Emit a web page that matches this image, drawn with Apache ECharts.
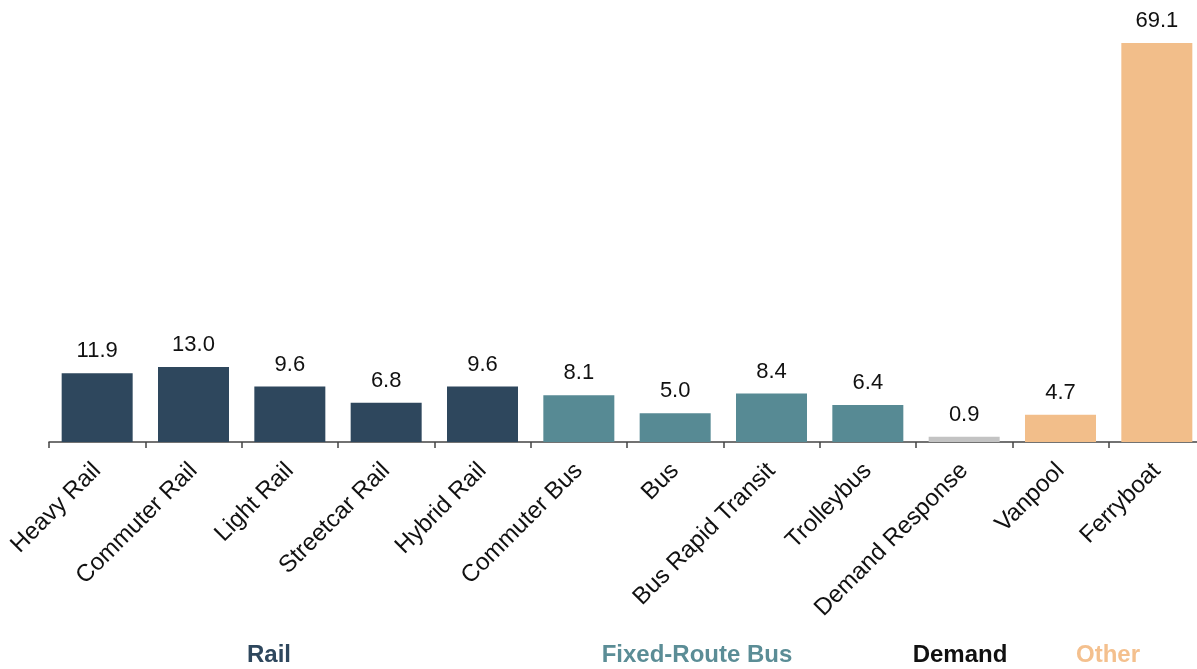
<!DOCTYPE html>
<html><head><meta charset="utf-8">
<script src="https://cdn.jsdelivr.net/npm/echarts@6/dist/echarts.min.js"></script>
<style>html,body{margin:0;padding:0;background:#fff}#c{width:1197px;height:669px}</style>
</head><body><div id="c"></div>
<script>
const categories = ['Heavy Rail','Commuter Rail','Light Rail','Streetcar Rail','Hybrid Rail','Commuter Bus','Bus','Bus Rapid Transit','Trolleybus','Demand Response','Vanpool','Ferryboat'];
const values = [11.9, 13.0, 9.6, 6.8, 9.6, 8.1, 5.0, 8.4, 6.4, 0.9, 4.7, 69.1];
const groups = ['Rail','Rail','Rail','Rail','Rail','Bus','Bus','Bus','Bus','Demand','Other','Other'];
const groupLabels = ['Rail','Fixed-Route Bus','Demand','Other'];
const barColors = {Rail:'#2E475D', Bus:'#578A94', Demand:'#C3C3C3', Other:'#F2BE8A'};
const labelColors = ['#2E475D','#5B8D96','#111111','#F4C08E'];
const labelX = [269, 697, 960, 1108];

const FONT = 'Liberation Sans, Arial, sans-serif';
const chart = echarts.init(document.getElementById('c'));
chart.setOption({
  animation:false,
  grid:{left:49, width:1156, top:43, bottom:227, containLabel:false, outerBoundsMode:'none'},
  xAxis:{type:'category', data:categories,
    axisLine:{lineStyle:{color:'#444', width:1.5}},
    axisTick:{show:true, length:6, lineStyle:{color:'#444', width:1.5}},
    axisLabel:{rotate:45, margin:25, fontSize:24, color:'#111', fontFamily:FONT, interval:0}
  },
  yAxis:{type:'value', min:0, max:69.1, show:false, splitLine:{show:false}},
  series:[{type:'bar', barWidth:71,
    data: values.map((v,i)=>({value:v, itemStyle:{color:barColors[groups[i]]}})),
    label:{show:true, position:'top', distance:11, fontSize:22, color:'#111', fontFamily:FONT, formatter:p=>p.value.toFixed(1)}
  }],
  graphic: groupLabels.map((t,i)=>({type:'text', x:labelX[i], y:655,
    style:{text:t, fill:labelColors[i], font:'bold 24px "Liberation Sans", Arial, sans-serif', textAlign:'center', textVerticalAlign:'middle'}}))
});
</script></body></html>
